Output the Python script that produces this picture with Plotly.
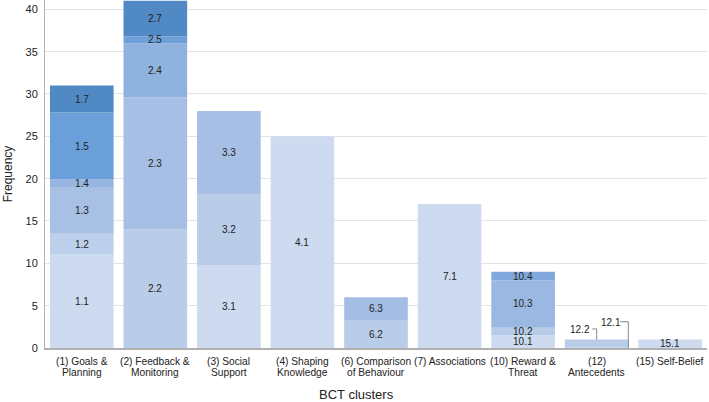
import plotly.graph_objects as go

# ---- data ----
categories = ["(1) Goals &<br>Planning", "(2) Feedback &<br>Monitoring", "(3) Social<br>Support",
              "(4) Shaping<br>Knowledge", "(6) Comparison<br>of Behaviour", "(7) Associations",
              "(10) Reward &<br>Threat", "(12)<br>Antecedents", "(15) Self-Belief"]

goals_codes = ["1.1", "1.2", "1.3", "1.4", "1.5", "1.7"]
goals_vals = [11, 2.5, 5.5, 0.9, 7.9, 3.2]
feedback_codes = ["2.2", "2.3", "2.4", "2.5", "2.7"]
feedback_vals = [14, 15.6, 6.4, 0.8, 4.2]
social_codes = ["3.1", "3.2", "3.3"]
social_vals = [9.8, 8.3, 9.9]
shaping_codes = ["4.1"]
shaping_vals = [25]
comparison_codes = ["6.2", "6.3"]
comparison_vals = [3.3, 2.7]
assoc_codes = ["7.1"]
assoc_vals = [17]
reward_codes = ["10.1", "10.2", "10.3", "10.4"]
reward_vals = [1.5, 0.9, 5.6, 1.0]
antecedent_codes = ["12.1", "12.2"]
antecedent_vals = [0.05, 0.95]
selfbelief_codes = ["15.1"]
selfbelief_vals = [1]

y_ticks = [0, 5, 10, 15, 20, 25, 30, 35, 40]

# ---- styles ----
colors = {
    "1.1": "#cddaef", "1.2": "#bdd0eb", "1.3": "#a8c0e4", "1.4": "#96b5e0",
    "1.5": "#6a9fd9", "1.7": "#5189c4",
    "2.2": "#b9cde9", "2.3": "#a7bfe4", "2.4": "#90b2df", "2.5": "#6da0d9", "2.7": "#5189c4",
    "3.1": "#cddaef", "3.2": "#b9cde9", "3.3": "#a7bfe4",
    "4.1": "#cddaef",
    "6.2": "#b9cde9", "6.3": "#a3bde3",
    "7.1": "#cddaef",
    "10.1": "#cddaef", "10.2": "#b6cbe8", "10.3": "#9bb8e2", "10.4": "#80a8dc",
    "12.1": "#cddaef", "12.2": "#b9cde9",
    "15.1": "#cddaef",
}
# callout: label dx from bar centre, label height above bar top, leader x offset, leader start offset
callout_codes = {"12.1": (0.19, 2.0, 0.43, 0.13), "12.2": (-0.23, 1.15, 0.0, 0.17)}

groups = [
    (goals_codes, goals_vals), (feedback_codes, feedback_vals), (social_codes, social_vals),
    (shaping_codes, shaping_vals), (comparison_codes, comparison_vals), (assoc_codes, assoc_vals),
    (reward_codes, reward_vals), (antecedent_codes, antecedent_vals), (selfbelief_codes, selfbelief_vals),
]

FONT = "Liberation Sans, Arial, Helvetica, sans-serif"
fig = go.Figure()
annotations = []
shapes = []
for i, (codes, vals) in enumerate(groups):
    base = 0
    total = sum(vals)
    for code, v in zip(codes, vals):
        fig.add_trace(go.Bar(x=[i], y=[v], base=[base], width=0.865,
                             marker=dict(color=colors[code], line=dict(width=0)),
                             showlegend=False, hoverinfo="text", hovertext=f"{code}: {v}"))
        if code in callout_codes:
            dx, dy, lx, ls = callout_codes[code]
            ty = total + dy
            annotations.append(dict(x=i + dx, y=ty, xref="x", yref="y", text=code, showarrow=False,
                                    font=dict(size=10, color="#222", family=FONT)))
            tx = i + lx
            target_y = base + v if lx == 0 else base
            shapes.append(dict(type="path", xref="x", yref="y",
                               path=f"M {i+dx+ls},{ty+0.1} L {tx},{ty+0.1} L {tx},{target_y}",
                               line=dict(color="#888", width=1)))
        else:
            annotations.append(dict(x=i, y=base + v / 2, xref="x", yref="y", text=code, showarrow=False,
                                    font=dict(size=10, color="#222", family=FONT)))
        base += v

# category labels (tight line spacing, like the reference)
for i, cat in enumerate(categories):
    for k, line in enumerate(cat.split("<br>")):
        annotations.append(dict(x=i, y=0, xref="x", yref="y", text=line, showarrow=False,
                                yanchor="middle", yshift=-(13 + 11.5 * k),
                                font=dict(size=10.2, color="#222", family=FONT)))

annotations.append(dict(x=0.47, y=0, xref="paper", yref="paper", yshift=-46, yanchor="middle",
                        text="BCT clusters", showarrow=False, font=dict(size=13, color="#222", family=FONT)))

fig.update_layout(
    width=709, height=402,
    margin=dict(l=45, r=2, t=0, b=54),
    barmode="overlay",
    plot_bgcolor="white", paper_bgcolor="white",
    font=dict(family=FONT, size=11, color="#222"),
    xaxis=dict(range=[-0.5, 8.5], showticklabels=False, automargin=False,
               showgrid=False, showline=True, linecolor="#b0b0b0", linewidth=2, ticks="",
               zeroline=False, fixedrange=True),
    yaxis=dict(range=[0, 41.1], tickvals=y_ticks, showgrid=True, gridcolor="#e3e3e3", gridwidth=1,
               automargin=False,
               showline=True, linecolor="#b0b0b0", linewidth=1, ticks="", zeroline=False,
               tickfont=dict(size=11, color="#222"), ticklabelstandoff=4,
               title=dict(text="Frequency", font=dict(size=12, color="#222"), standoff=10)),
    annotations=annotations,
    shapes=shapes,
)

fig.write_html("out.html", config={"displayModeBar": False},
               post_script="document.body.style.margin='0';document.body.style.overflow='hidden';")
